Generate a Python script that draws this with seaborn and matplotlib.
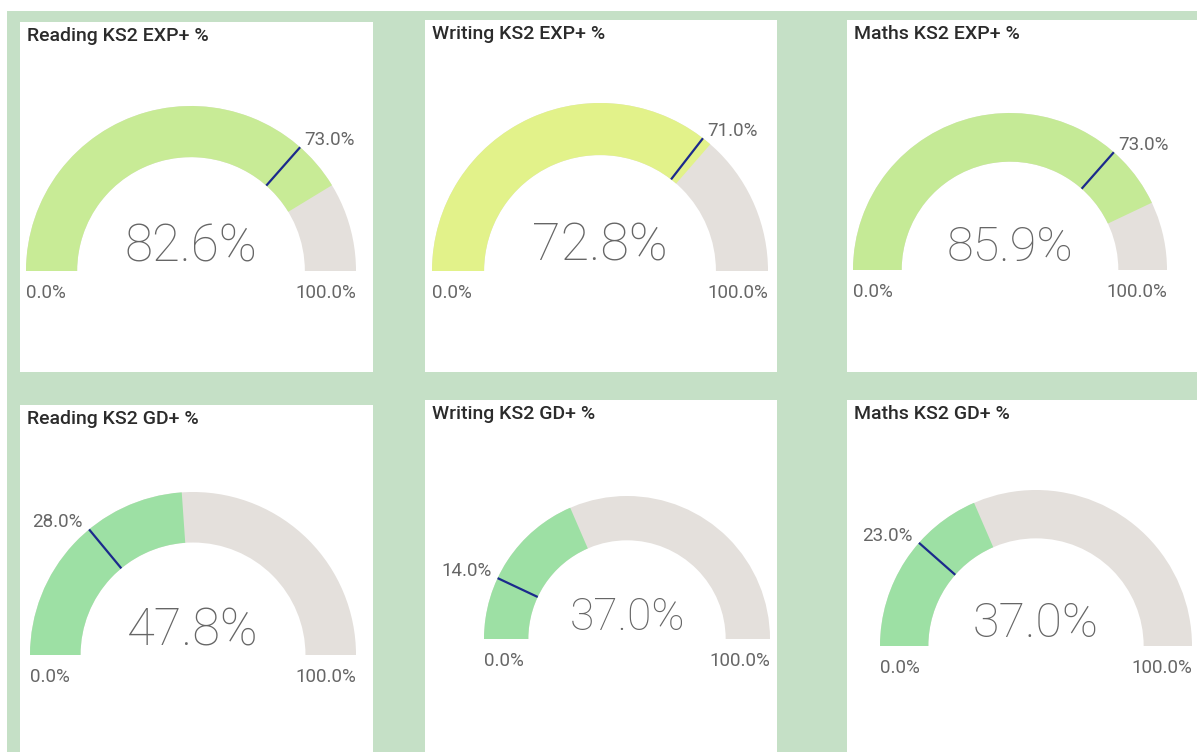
import matplotlib.pyplot as plt
import numpy as np
import seaborn as sns
from matplotlib.patches import Wedge, Rectangle

# Chart data
titles = ["Reading KS2 EXP+ %", "Writing KS2 EXP+ %", "Maths KS2 EXP+ %",
          "Reading KS2 GD+ %", "Writing KS2 GD+ %", "Maths KS2 GD+ %"]
values = [82.6, 72.8, 85.9, 47.8, 37.0, 37.0]
targets = [73.0, 71.0, 73.0, 28.0, 14.0, 23.0]
axis_min, axis_max = 0.0, 100.0

# Styling
fill_colors = ["#c8eb96", "#e2f28a", "#c5ea96", "#9de0a4", "#9de0a4", "#9de0a4"]
GREY = "#e4e0dc"
NAVY = "#1b2a8c"
BG = "#c5e0c6"
TEXT = "#666666"
TITLE = "#2b2b2b"

# Layout (pixels, origin top-left)
W, H = 1197, 752
cards = [(20, 22, 373, 372), (425, 20, 777, 372), (847, 20, 1197, 372),
         (20, 405, 373, 752), (425, 400, 777, 752), (847, 400, 1197, 752)]
centers = [(191, 271), (600, 271), (1010, 270), (193, 655), (627, 639), (1036, 646)]
radii = [165, 168, 157, 163, 143, 156]
ring = 0.31  # ring thickness as a fraction of the outer radius

sns.set_theme(style="white")
plt.rcParams['font.family'] = ['Roboto', 'DejaVu Sans']


def frac(v):
    return (v - axis_min) / (axis_max - axis_min)


fig = plt.figure(figsize=(W / 100, H / 100), dpi=100)
fig.patch.set_facecolor("white")
fig.add_artist(Rectangle((7 / W, 0), 1 - 7 / W, (H - 11) / H, transform=fig.transFigure,
                         facecolor=BG, edgecolor="none", zorder=0))

for i in range(len(titles)):
    x0, y0, x1, y1 = cards[i]
    cx, cy = centers[i]
    r = radii[i]
    ax = fig.add_axes([x0 / W, (H - y1) / H, (x1 - x0) / W, (y1 - y0) / H])
    ax.set_facecolor("white")
    ax.set_xlim((x0 - cx) / r, (x1 - cx) / r)
    ax.set_ylim((cy - y1) / r, (cy - y0) / r)
    ax.set_xticks([])
    ax.set_yticks([])
    for s in ax.spines.values():
        s.set_visible(False)

    # gauge ring: background, value fill, target needle
    f = frac(values[i])
    t = frac(targets[i])
    ax.add_patch(Wedge((0, 0), 1, 0, 180, width=ring, facecolor=GREY, edgecolor="none"))
    ax.add_patch(Wedge((0, 0), 1, 180 - 180 * f, 180, width=ring,
                       facecolor=fill_colors[i], edgecolor="none"))
    ang = np.radians(180 - 180 * t)
    ca, sa = np.cos(ang), np.sin(ang)
    ax.plot([(1 - ring) * ca, ca], [(1 - ring) * sa, sa], color=NAVY, lw=1.6,
            solid_capstyle="butt")

    # texts
    ax.text(0, 0.06, f"{values[i]:.1f}%", ha="center", va="baseline",
            fontsize=0.31 * r * 0.72, fontweight="light", color=TEXT)
    ax.annotate(f"{axis_min:.1f}%", xy=(-1, 0), xytext=(0, -27), textcoords="offset pixels",
                ha="left", va="baseline", fontsize=13.5, color=TEXT)
    ax.annotate(f"{axis_max:.1f}%", xy=(1, 0), xytext=(0, -27), textcoords="offset pixels",
                ha="right", va="baseline", fontsize=13.5, color=TEXT)
    if ca >= 0:
        off, ha = (4, 2), "left"
    else:
        off, ha = (-6, 2), "right"
    ax.annotate(f"{targets[i]:.1f}%", xy=(ca, sa), xytext=off, textcoords="offset pixels",
                ha=ha, va="baseline", fontsize=13.5, color=TEXT)
    ax.annotate(titles[i], xy=(0, 1), xycoords="axes fraction", xytext=(7, -5),
                textcoords="offset pixels", ha="left", va="top", fontsize=14,
                fontweight="medium", color=TITLE)

fig.savefig("out.png", dpi=100)
